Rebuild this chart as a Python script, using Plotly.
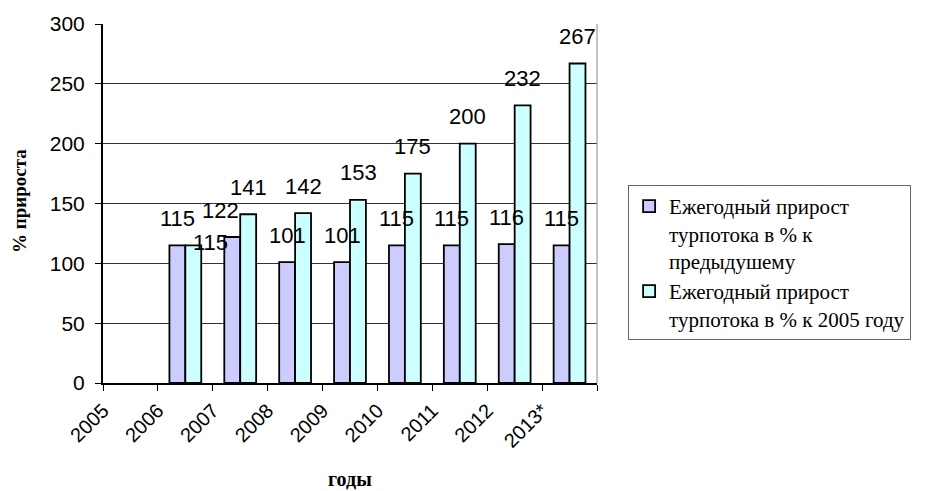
import plotly.graph_objects as go

years = ["2005", "2006", "2007", "2008", "2009", "2010", "2011", "2012", "2013*"]
prev_year = [None, 115, 122, 101, 101, 115, 115, 116, 115]
to_2005 = [None, 115, 141, 142, 153, 175, 200, 232, 267]
y_ticks = [0, 50, 100, 150, 200, 250, 300]

name_prev = "Ежегодный прирост<br>турпотока в % к<br>предыдушему"
name_2005 = "Ежегодный прирост<br>турпотока в % к 2005 году"

# label nudges (pixels) for overlapping labels, keyed by (series, year)
nudges = {("to_2005", "2006"): (17, -24), ("prev", "2007"): (-12, 0)}

xpos = [i + 0.5 for i in range(len(years))]

fig = go.Figure()
fig.add_trace(go.Bar(x=xpos, y=prev_year, name=name_prev,
                     marker=dict(color="#CCCCFF", line=dict(color="black", width=1.8))))
fig.add_trace(go.Bar(x=xpos, y=to_2005, name=name_2005,
                     marker=dict(color="#CCFFFF", line=dict(color="black", width=1.8))))

ann = []
for key, vals, side in (("prev", prev_year, -8), ("to_2005", to_2005, 8)):
    for i, v in enumerate(vals):
        if v is None:
            continue
        dx, dy = nudges.get((key, years[i]), (0, 0))
        ann.append(dict(x=xpos[i], y=v, xref="x", yref="y", text=str(v), showarrow=False,
                        xshift=side + dx, yshift=27 + dy, yanchor="middle", xanchor="center",
                        font=dict(family="Liberation Sans, Arial", size=22, color="black")))

ann.append(dict(x=-0.168, y=0.507, xref="paper", yref="paper", text="% прироста",
                textangle=-90, showarrow=False, xanchor="center", yanchor="middle",
                font=dict(family="Liberation Serif, Times New Roman", size=19, color="black", weight="bold")))
ann.append(dict(x=0.5, y=-0.268, xref="paper", yref="paper", text="годы",
                showarrow=False, xanchor="center", yanchor="middle",
                font=dict(family="Liberation Serif, Times New Roman", size=20, color="black", weight="bold")))

fig.update_layout(
    width=935, height=491,
    margin=dict(l=103, r=338, t=24, b=108, autoexpand=False),
    paper_bgcolor="white", plot_bgcolor="white",
    barmode="group", bargap=0.42, bargroupgap=0,
    annotations=ann,
    legend=dict(x=1.063, y=0.5515, xanchor="left", yanchor="top",
                bordercolor="#666666", borderwidth=1, bgcolor="white",
                valign="top", traceorder="normal", itemwidth=30,
                font=dict(family="Liberation Serif, Times New Roman", size=21, color="black")),
    shapes=[dict(type="line", xref="paper", yref="paper", x0=1, x1=1, y0=0, y1=1,
                 line=dict(color="#888888", width=1))],
)
fig.update_xaxes(range=[0, len(years)], tickmode="array",
                 tickvals=list(range(len(years) + 1)), ticktext=years + [""],
                 tickangle=-45, ticks="outside", ticklen=6, tickcolor="black",
                 showline=True, linecolor="black", linewidth=2, showgrid=False, zeroline=False,
                 tickfont=dict(family="Liberation Sans, Arial", size=20, color="black"))
fig.update_yaxes(range=[0, 300], tickmode="array", tickvals=y_ticks,
                 ticks="outside", ticklen=6, tickcolor="black", ticklabelstandoff=6,
                 showline=True, linecolor="black", linewidth=2,
                 showgrid=True, gridcolor="#333333", gridwidth=1, zeroline=False,
                 tickfont=dict(family="Liberation Sans, Arial", size=21, color="black"))

fig.write_html("out.html")
